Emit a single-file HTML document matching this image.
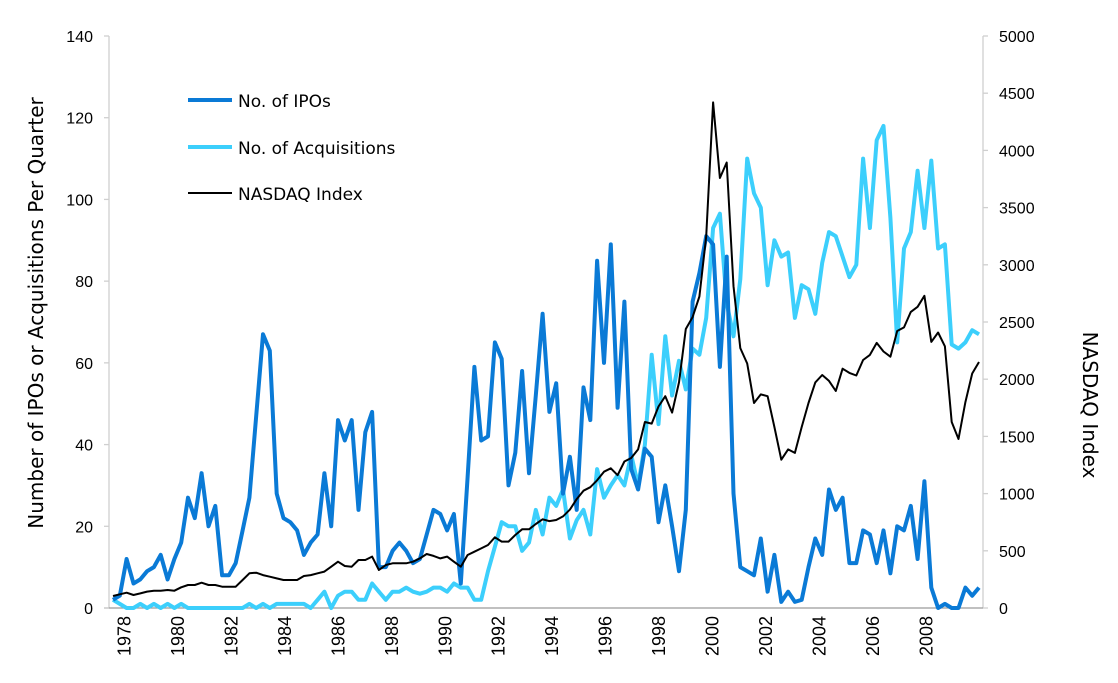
<!DOCTYPE html>
<html>
<head>
<meta charset="utf-8">
<style>
  html, body { margin: 0; padding: 0; background: #fff; }
  svg { display: block; font-family: "Liberation Sans", sans-serif; }
  .dv { font-family: "DejaVu Sans", "Liberation Sans", sans-serif; }
</style>
</head>
<body>
<svg id="chart" width="1118" height="683" viewBox="0 0 1118 683" xmlns="http://www.w3.org/2000/svg">
  <g id="axes"></g>
  <g id="series"></g>
  <text class="dv" x="0" y="0" transform="translate(43,313) rotate(-90)" text-anchor="middle" font-size="20" fill="#000">Number of IPOs or Acquisitions Per Quarter</text>
  <text class="dv" x="0" y="0" transform="translate(1083,405) rotate(90)" text-anchor="middle" font-size="20" fill="#000">NASDAQ Index</text>
  <g class="dv">
    <g>
      <line x1="188" y1="100" x2="232" y2="100" stroke="#0a7ad6" stroke-width="4"/>
      <text x="238" y="107" font-size="17" fill="#000">No. of IPOs</text>
    </g>
    <g>
      <line x1="188" y1="147" x2="232" y2="147" stroke="#3ccffc" stroke-width="4"/>
      <text x="238" y="154" font-size="17" fill="#000">No. of Acquisitions</text>
    </g>
    <g>
      <line x1="188" y1="193" x2="232" y2="193" stroke="#000" stroke-width="2"/>
      <text x="238" y="200" font-size="17" fill="#000">NASDAQ Index</text>
    </g>
  </g>
</svg>
<script>
const ipos = [2,3,12,6,7,9,10,13,7,12,16,27,22,33,20,25,8,8,11,19,27,47,67,63,28,22,21,19,13,16,18,33,20,46,41,46,24,43,48,10,10,14,16,14,11,12,18,24,23,19,23,6,32,59,41,42,65,61,30,38,58,33,52,72,48,55,28,37,24,54,46,85,60,89,49,75,34,29,39,37,21,30,20,9,24,75,82,91,89,59,86,28,10,9,8,17,4,13,1.5,4,1.5,2,10,17,13,29,24,27,11,11,19,18,11,19,8.5,20,19,25,12,31,5,0,1,0,0,5,3,5];
const acquisitions = [2,1,0,0,1,0,1,0,1,0,1,0,0,0,0,0,0,0,0,0,1,0,1,0,1,1,1,1,1,0,2,4,0,3,4,4,2,2,6,4,2,4,4,5,4,3.5,4,5,5,4,6,5,5,2,2,9,15,21,20,20,14,16,24,18,27,25,29,17,21.5,24,18,34,27,30,32.5,30,37.5,30,40,62,45,66.5,52,60.5,53.5,63.5,62,71,93,96.5,74.6,66.5,80.5,110,101.5,98,79,90,86,87,71,79,78,72,84.5,92,91,86,81,84,110,93,114.5,118,95.5,65,88,92,107,93,109.5,88,89,64.5,63.5,65,68,67];
const nasdaq = [105,120,134,114,128,143,151,151,157,151,181,201,201,221,201,201,186,186,186,245,303,309,288,274,259,245,245,245,280,288,303,318,361,405,367,361,420,420,449,332,376,391,391,391,405,434,472,455,434,449,405,361,463,492,521,551,618,580,580,638,688,688,734,775,760,769,801,860,952,1025,1056,1116,1191,1221,1161,1281,1311,1386,1626,1612,1761,1851,1708,1972,2439,2543,2723,3248,4420,3759,3894,2814,2272,2137,1792,1867,1851,1582,1296,1386,1356,1582,1792,1972,2037,1985,1897,2092,2055,2032,2168,2212,2317,2242,2197,2421,2453,2588,2633,2729,2326,2408,2288,1626,1477,1800,2050,2150];
const leftTicks = [0,20,40,60,80,100,120,140];
const rightTicks = [0,500,1000,1500,2000,2500,3000,3500,4000,4500,5000];
const yearLabels = [1978,1980,1982,1984,1986,1988,1990,1992,1994,1996,1998,2000,2002,2004,2006,2008];

const NS = "http://www.w3.org/2000/svg";
const plotTop = 36, plotBottom = 608, leftX = 109, rightX = 983;
const xFirst = 113, xLast = 979;
function xIdx(i) { return xFirst + (xLast - xFirst) * i / (ipos.length - 1); }
function yLeft(v) { return plotBottom - (plotBottom - plotTop) * v / 140; }
function yRight(v) { return plotBottom - (plotBottom - plotTop) * v / 5000; }
function xYear(y) { return 124 + (y - 1978) * 26.73; }

function mk(tag, attrs, parent) {
  const e = document.createElementNS(NS, tag);
  for (const k in attrs) e.setAttribute(k, attrs[k]);
  parent.appendChild(e);
  return e;
}
const axes = document.getElementById('axes');
const series = document.getElementById('series');

let el = mk('line', {x1: leftX, y1: plotTop, x2: leftX, y2: plotBottom, stroke: '#cfcfcf', 'stroke-width': 1.3}, axes);


el = mk('line', {x1: rightX, y1: plotTop, x2: rightX, y2: plotBottom, stroke: '#cfcfcf', 'stroke-width': 1.3}, axes);


el = mk('line', {x1: 104, y1: plotBottom, x2: rightX, y2: plotBottom, stroke: '#9a9a9a', 'stroke-width': 1.3}, axes);



leftTicks.forEach(v => {
  const y = yLeft(v);
  const t = mk('line', {x1: leftX - 5, y1: y, x2: leftX, y2: y, stroke: '#cfcfcf', 'stroke-width': 1.3}, axes);
  
  
  const lb = mk('text', {x: 93, y: y + 6, 'text-anchor': 'end', 'font-size': 16, fill: '#000'}, axes);
  lb.textContent = v;
  
  
});
rightTicks.forEach(v => {
  const y = yRight(v);
  const t = mk('line', {x1: rightX, y1: y, x2: rightX + 5, y2: y, stroke: '#cfcfcf', 'stroke-width': 1.3}, axes);
  
  
  const lb = mk('text', {x: 999, y: y + 6, 'text-anchor': 'start', 'font-size': 16, fill: '#000'}, axes);
  lb.textContent = v;
  
  
});
yearLabels.forEach(yr => {
  const x = xYear(yr);
  const lb = mk('text', {x: 0, y: 0, transform: 'translate(' + (x + 6.5) + ',616) rotate(-90)', 'text-anchor': 'end', 'font-size': 18, fill: '#000'}, axes);
  lb.textContent = yr;
  
  
});

function drawLine(vals, yf, color, w, name) {
  const pts = vals.map((v, i) => xIdx(i).toFixed(1) + ',' + yf(v).toFixed(1)).join(' ');
  const p = mk('polyline', {points: pts, fill: 'none', stroke: color, 'stroke-width': w, 'stroke-linejoin': 'round'}, series);
  
  
}
drawLine(acquisitions, yLeft, '#3ccffc', 4, 'acquisitions-line');
drawLine(ipos, yLeft, '#0a7ad6', 4, 'ipos-line');
drawLine(nasdaq, yRight, '#000', 2, 'nasdaq-line');
</script>
</body>
</html>
